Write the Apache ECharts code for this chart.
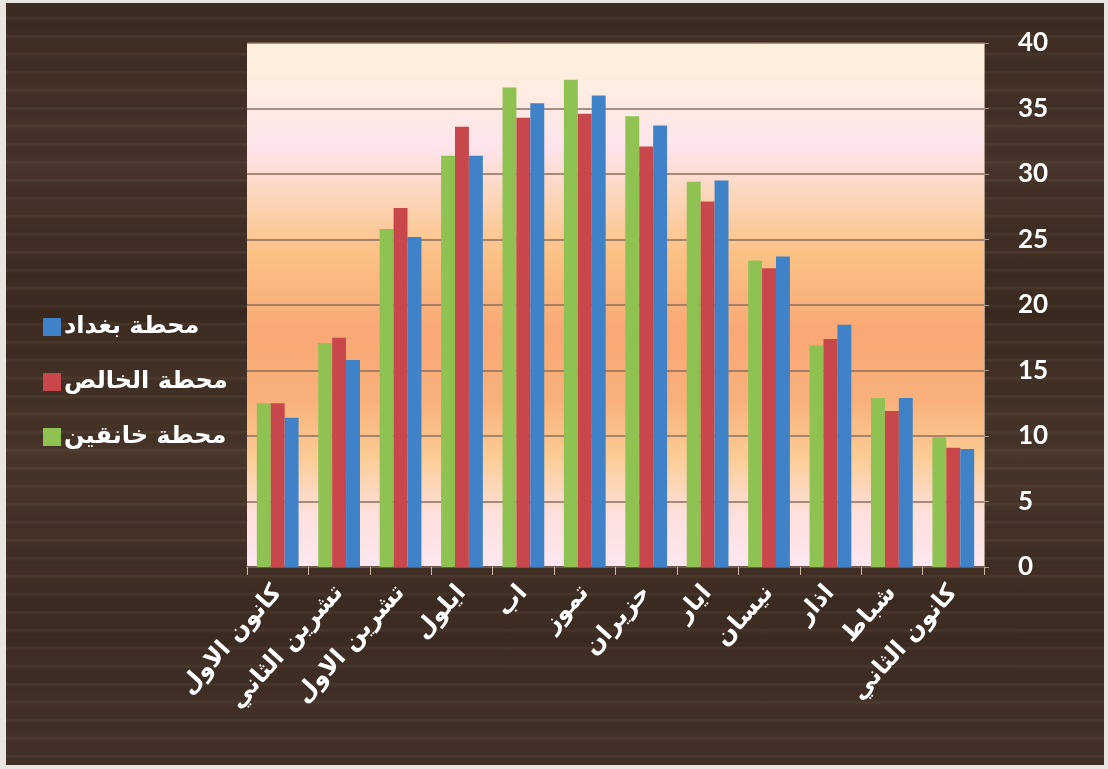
<!DOCTYPE html>
<html>
<head>
<meta charset="utf-8">
<script src="https://cdn.jsdelivr.net/npm/echarts@6/dist/echarts.min.js"></script>
<style>
  html, body { margin: 0; padding: 0; background: #e9e6e2; }
  #wood {
    position: absolute; left: 6px; top: 3px; width: 1098px; height: 762px;
    background-color: #3c2b20;
    background-image:
      repeating-linear-gradient(to bottom, rgba(255,235,210,0) 0px, rgba(255,235,210,0) 13px, rgba(255,235,210,0.06) 15px, rgba(255,235,210,0) 18px),
      repeating-linear-gradient(to bottom, rgba(0,0,0,0) 0px, rgba(0,0,0,0.08) 23px, rgba(0,0,0,0) 41px),
      linear-gradient(to bottom, #3d2c21 0%, #48352b 20%, #3c2b20 40%, #4a372b 60%, #3d2c22 80%, #45332a 100%);
  }
  #chart { position: absolute; left: 0; top: 0; width: 1108px; height: 769px; }
</style>
</head>
<body>
<div id="wood"></div>
<div id="chart"></div>
<script>
// months, left to right as in the picture
var months = ['كانون الاول', 'تشرين الثاني', 'تشرين الاول', 'ايلول', 'اب', 'تموز', 'حزيران', 'ايار', 'نيسان', 'اذار', 'شباط', 'كانون الثاني'];
var khanaqin = [12.5, 17.1, 25.8, 31.4, 36.6, 37.2, 34.4, 29.4, 23.4, 16.9, 12.9, 9.9];
var khalis   = [12.5, 17.5, 27.4, 33.6, 34.3, 34.6, 32.1, 27.9, 22.8, 17.4, 11.9, 9.1];
var baghdad  = [11.4, 15.8, 25.2, 31.4, 35.4, 36.0, 33.7, 29.5, 23.7, 18.5, 12.9, 9.0];
var yTicks = [0, 5, 10, 15, 20, 25, 30, 35, 40];

var chart = echarts.init(document.getElementById('chart'));

var plotBg = new echarts.graphic.LinearGradient(0, 0, 0, 1, [
  { offset: 0, color: '#fdf0dc' },
  { offset: 0.12, color: '#fdebe3' },
  { offset: 0.2, color: '#fde4ec' },
  { offset: 0.3, color: '#fcd4b6' },
  { offset: 0.4, color: '#fbc286' },
  { offset: 0.55, color: '#f8a874' },
  { offset: 0.68, color: '#f9b07a' },
  { offset: 0.79, color: '#fbcc94' },
  { offset: 0.9, color: '#fde0dc' },
  { offset: 1, color: '#fde7f0' }
]);

var option = {
  animation: false,
  backgroundColor: 'transparent',
  textStyle: { fontFamily: 'DejaVu Sans' },
  legend: {
    orient: 'vertical',
    left: 38,
    top: 310,
    itemWidth: 18,
    itemHeight: 18,
    itemGap: 31,
    icon: 'rect',
    data: ['محطة بغداد', 'محطة الخالص', 'محطة خانقين'],
    textStyle: { color: '#ffffff', fontSize: 24, fontWeight: 'bold', fontFamily: 'DejaVu Sans', padding: [0, 0, 0, -2] }
  },
  grid: {
    left: 247, right: 124, top: 43, bottom: 202,
    show: true,
    backgroundColor: plotBg,
    borderWidth: 0
  },
  xAxis: {
    type: 'category',
    data: months,
    axisLine: { lineStyle: { color: '#6e5a4c', width: 2 } },
    axisTick: { show: true, length: 8, lineStyle: { color: '#cbb8a4' } },
    axisLabel: {
      interval: 0,
      rotate: 48,
      margin: 22,
      color: '#ffffff',
      fontSize: 24,
      fontWeight: 'bold',
      fontFamily: 'DejaVu Sans'
    }
  },
  yAxis: {
    type: 'value',
    position: 'right',
    min: 0,
    max: 40,
    interval: 5,
    axisLine: { show: true, lineStyle: { color: '#a89888', width: 1 } },
    axisTick: { show: true, length: 5, lineStyle: { color: '#a89888' } },
    splitLine: { lineStyle: { color: '#8a6e5e', width: 1.5 } },
    axisLabel: {
      margin: 34,
      color: '#ffffff',
      fontSize: 26,
      fontWeight: 'bold',
      fontFamily: 'Lato',
      formatter: function (v) { return yTicks.indexOf(v) >= 0 ? String(v) : ''; }
    }
  },
  series: [
    { name: 'محطة خانقين', type: 'bar', data: khanaqin, itemStyle: { color: '#8fc253' }, barGap: '0%', barCategoryGap: '32%' },
    { name: 'محطة الخالص', type: 'bar', data: khalis, itemStyle: { color: '#c8474b' } },
    { name: 'محطة بغداد', type: 'bar', data: baghdad, itemStyle: { color: '#3f82c8' } }
  ]
};

chart.setOption(option);
</script>
</body>
</html>
